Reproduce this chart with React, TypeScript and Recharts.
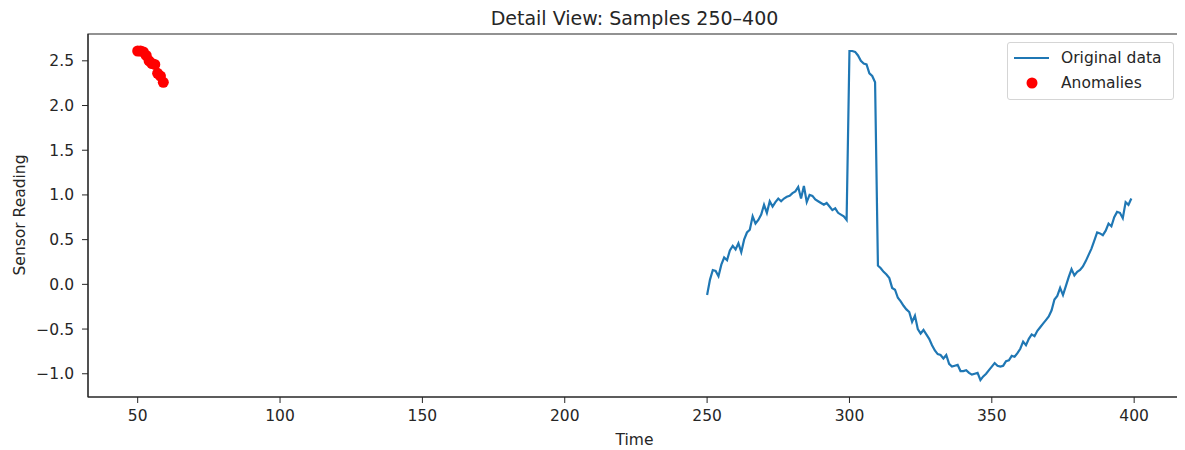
import { ComposedChart, Line, Scatter, XAxis, YAxis, ReferenceArea } from "recharts";

const FIRST_SAMPLE = 250;
const sensorValues = [
  -0.12, 0.05, 0.16, 0.15, 0.09, 0.22, 0.3, 0.27, 0.38, 0.43,
  0.39, 0.46, 0.36, 0.5, 0.58, 0.61, 0.76, 0.68, 0.72, 0.78,
  0.89, 0.8, 0.93, 0.87, 0.92, 0.96, 0.93, 0.96, 0.98, 0.99,
  1.02, 1.04, 1.09, 0.96, 1.1, 0.92, 1.0, 0.99, 0.95, 0.93,
  0.91, 0.89, 0.91, 0.87, 0.83, 0.85, 0.8, 0.78, 0.76, 0.72,
  2.61, 2.61, 2.6, 2.56, 2.5, 2.47, 2.46, 2.36, 2.33, 2.26,
  0.21, 0.18, 0.14, 0.11, 0.07, -0.04, -0.06, -0.15, -0.19, -0.24,
  -0.28, -0.31, -0.42, -0.35, -0.5, -0.55, -0.51, -0.56, -0.61, -0.68,
  -0.74, -0.78, -0.79, -0.83, -0.79, -0.89, -0.92, -0.91, -0.9, -0.97,
  -0.97, -0.96, -0.99, -1.01, -1.0, -0.99, -1.07, -1.03, -1.0, -0.96,
  -0.92, -0.88, -0.91, -0.92, -0.91, -0.86, -0.85, -0.8, -0.81, -0.77,
  -0.72, -0.64, -0.68, -0.61, -0.56, -0.58, -0.52, -0.48, -0.44, -0.4,
  -0.36, -0.29, -0.17, -0.13, -0.04, -0.12, -0.02, 0.08, 0.17, 0.1,
  0.14, 0.16, 0.2, 0.26, 0.33, 0.4, 0.49, 0.58, 0.57, 0.55,
  0.6, 0.68, 0.65, 0.75, 0.81, 0.8, 0.74, 0.92, 0.89, 0.96,
];

const anomalyTimes = [50, 51, 52, 53, 54, 55, 56, 57, 58, 59];
const anomalyValues = [2.61, 2.61, 2.6, 2.56, 2.5, 2.47, 2.46, 2.36, 2.33, 2.26];

const xTicks = [50, 100, 150, 200, 250, 300, 350, 400];
const yTicks = [-1.0, -0.5, 0.0, 0.5, 1.0, 1.5, 2.0, 2.5];
const X_DOMAIN: [number, number] = [32.55, 416.45];
const Y_DOMAIN: [number, number] = [-1.26, 2.8];

const lineData = sensorValues.map((v, i) => ({ t: FIRST_SAMPLE + i, v }));
const anomalyData = anomalyTimes.map((t, i) => ({ t, v: anomalyValues[i] }));

const FONT = "'DejaVu Sans', sans-serif";
const INK = "#262626";
const BLUE = "#1f77b4";
const RED = "#ff0000";

const fmtY = (v: number) => (v < 0 ? "\u2212" + Math.abs(v).toFixed(1) : v.toFixed(1));

export default function App() {
  return (
    <div style={{ position: "relative", width: 1177, height: 442, fontFamily: FONT, color: INK }}>
      <div
        style={{
          position: "absolute",
          left: 80,
          width: 1093,
          top: 0,
          lineHeight: "20px",
          fontSize: 19,
          textAlign: "center",
        }}
      >
        Detail View: Samples 250–400
      </div>
      <div
        style={{
          position: "absolute",
          left: 80,
          width: 1093,
          top: 423,
          lineHeight: "18px",
          fontSize: 15.5,
          textAlign: "center",
        }}
      >
        Time
      </div>
      <div
        style={{
          position: "absolute",
          left: 12,
          top: 207,
          width: 0,
          height: 0,
        }}
      >
        <div
          style={{
            position: "absolute",
            transform: "translate(-50%, -50%) rotate(-90deg)",
            whiteSpace: "nowrap",
            fontSize: 15.5,
            lineHeight: "18px",
          }}
        >
          Sensor Reading
        </div>
      </div>

      <ComposedChart width={1177} height={442} margin={{ top: 26, right: 4, bottom: 23, left: 0 }}>
        <XAxis
          dataKey="t"
          type="number"
          domain={X_DOMAIN}
          ticks={xTicks}
          allowDataOverflow
          height={30}
          tickSize={6}
          tickMargin={7}
          stroke={INK}
          tick={{ fill: INK, fontSize: 15.5, fontFamily: FONT }}
        />
        <YAxis
          dataKey="v"
          type="number"
          domain={Y_DOMAIN}
          ticks={yTicks}
          allowDataOverflow
          width={80}
          tickSize={6}
          tickMargin={8}
          tickFormatter={fmtY}
          stroke={INK}
          tick={{ fill: INK, fontSize: 15.5, fontFamily: FONT }}
        />
        <ReferenceArea
          x1={X_DOMAIN[0]}
          x2={X_DOMAIN[1]}
          y1={Y_DOMAIN[0]}
          y2={Y_DOMAIN[1]}
          fill="none"
          stroke={INK}
          strokeWidth={1.2}
          ifOverflow="visible"
        />
        <Line
          data={lineData}
          dataKey="v"
          type="linear"
          stroke={BLUE}
          strokeWidth={2.2}
          dot={false}
          activeDot={false}
          isAnimationActive={false}
        />
        <Scatter
          data={anomalyData}
          dataKey="v"
          fill={RED}
          isAnimationActive={false}
          shape={(p: any) => <circle cx={p.cx} cy={p.cy} r={5.5} fill={RED} />}
        />
      </ComposedChart>

      <div
        style={{
          position: "absolute",
          left: 999,
          top: 34,
          width: 167,
          height: 58,
          boxSizing: "border-box",
          border: "1px solid #d5d5d5",
          borderRadius: 3,
          background: "rgba(255,255,255,0.8)",
          fontSize: 15.5,
        }}
      >
        <svg width={50} height={58} style={{ position: "absolute", left: 0, top: 0 }}>
          <line x1={6} x2={41} y1={15} y2={15} stroke={BLUE} strokeWidth={2.2} />
          <circle cx={24} cy={40} r={5.5} fill={RED} />
        </svg>
        <div style={{ position: "absolute", left: 53, top: 5, lineHeight: "20px", whiteSpace: "nowrap" }}>
          Original data
        </div>
        <div style={{ position: "absolute", left: 53, top: 30, lineHeight: "20px", whiteSpace: "nowrap" }}>
          Anomalies
        </div>
      </div>
    </div>
  );
}
